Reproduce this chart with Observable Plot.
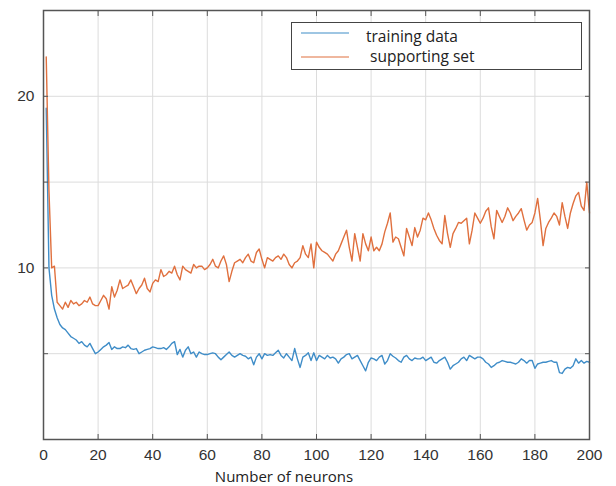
<!DOCTYPE html>
<html>
<head>
<meta charset="utf-8">
<script src="https://cdn.jsdelivr.net/npm/d3@7"></script>
<script src="https://cdn.jsdelivr.net/npm/@observablehq/plot@0.6"></script>
<style>
  html, body { margin: 0; padding: 0; background: #fff; }
  #wrap { position: relative; width: 616px; height: 486px; overflow: hidden; }
  #legend {
    position: absolute; left: 291px; top: 22px; width: 291px; height: 48px;
    border: 1.5px solid #444; background: #fff; box-sizing: border-box;
    font-family: "Open Sans", sans-serif; font-size: 15.5px; color: #222;
  }
  .item { position: absolute; left: 9px; height: 16px; display: flex; align-items: center; }
  .item span { display: inline-block; height: 16px; line-height: 16px; white-space: pre; }
  .sw { width: 48px; height: 0; border-top: 1.4px solid; margin-right: 17px; }
  #xlabel {
    position: absolute; left: 0; width: 568px; top: 467.5px; height: 16px; line-height: 16px; text-align: center;
    font-family: "Open Sans", sans-serif; font-size: 15px; color: #222;
  }
  #xlabel span { display: inline-block; height: 16px; line-height: 16px; }
</style>
</head>
<body>
<div id="wrap">
  <div id="chart"></div>
  <div id="legend"></div>
  <div id="xlabel"></div>
</div>
<script>
const seriesNames = ["training data", " supporting set"];
const seriesColors = ["#3f8dc8", "#e0703e"];
const xLabel = "Number of neurons";
const xTicks = [0, 20, 40, 60, 80, 100, 120, 140, 160, 180, 200];
const yTicks = [5, 10, 15, 20];
const yLabeled = [10, 20];

const neurons = d3.range(1, 201);

const training = [
  19.3, 10.0, 8.4, 7.6, 7.1, 6.7, 6.5, 6.4, 6.2, 6.0,
  5.9, 5.8, 5.6, 5.7, 5.5, 5.4, 5.6, 5.3, 5.0, 5.1,
  5.25, 5.4, 5.5, 5.65, 5.25, 5.4, 5.3, 5.3, 5.4, 5.35,
  5.5, 5.3, 5.25, 5.3, 5.0, 5.1, 5.2, 5.25, 5.3, 5.4,
  5.35, 5.3, 5.3, 5.35, 5.25, 5.4, 5.6, 5.7, 4.95, 5.25,
  4.8, 5.2, 5.4, 5.0, 5.1, 4.8, 5.1, 5.0, 4.95, 4.95,
  5.0, 5.05, 5.0, 4.8, 4.65, 4.8, 4.95, 5.1, 4.9, 4.8,
  4.9, 5.0, 4.9, 4.85, 4.7, 4.8, 4.35, 4.8, 5.0, 4.7,
  5.0, 4.9, 4.95, 4.9, 5.05, 5.2, 4.9, 4.75, 5.0, 4.8,
  4.6, 5.3, 4.7, 4.2, 4.8, 4.9, 5.05, 4.6, 5.05, 4.6,
  4.9, 4.8, 4.7, 4.9, 4.75, 4.8, 4.7, 4.45, 4.7, 4.8,
  4.95, 5.0, 4.7, 4.8, 4.9, 4.6, 4.3, 4.0, 4.5, 4.75,
  4.7, 4.6, 4.8, 4.9, 4.4, 4.6, 5.0, 4.85, 4.75, 4.6,
  4.5, 4.8, 4.9, 4.7, 4.6, 4.75, 4.7, 4.7, 4.8, 4.6,
  4.7, 4.8, 4.5, 4.45, 4.6, 4.7, 4.8, 4.5, 4.1, 4.3,
  4.4, 4.5, 4.7, 4.8, 4.6, 4.9, 4.8, 4.7, 4.8, 4.8,
  4.7, 4.5, 4.4, 4.2, 4.3, 4.45, 4.5, 4.6, 4.55, 4.5,
  4.5, 4.45, 4.4, 4.5, 4.7, 4.6, 4.45, 4.6, 4.6, 4.15,
  4.4, 4.45, 4.5, 4.5, 4.55, 4.6, 4.5, 4.5, 3.9, 3.85,
  4.1, 4.2, 4.15, 4.3, 4.7, 4.45, 4.6, 4.45, 4.55, 4.5
];

const supporting = [
  22.3, 14.5, 10.0, 10.1, 8.0, 7.8, 7.6, 8.0, 7.7, 8.1,
  7.9, 8.0, 7.8, 7.9, 8.1, 8.0, 8.3, 7.9, 7.8, 7.8,
  8.1, 8.4, 8.2, 7.6, 8.9, 8.3, 8.7, 9.3, 8.8, 8.9,
  9.0, 9.3, 8.9, 8.5, 8.8, 9.0, 9.4, 8.8, 8.6, 9.1,
  9.3, 9.2, 9.9, 9.5, 9.6, 9.8, 9.7, 10.1, 9.6, 9.3,
  10.1, 9.9, 9.8, 9.7, 10.2, 10.0, 10.1, 10.1, 9.9, 10.0,
  10.2, 10.5, 10.1, 10.0, 10.4, 10.7, 10.2, 9.2, 9.8, 10.3,
  10.4, 10.5, 10.3, 10.6, 10.8, 10.4, 10.3, 10.9, 11.1, 10.5,
  10.0, 10.6, 10.5, 10.4, 10.6, 10.7, 10.5, 10.8, 10.6, 10.2,
  10.0, 10.3, 10.4, 10.6, 11.3, 10.8, 10.6, 11.4, 10.0, 11.5,
  11.2, 11.0, 10.9, 10.8, 10.6, 10.4, 10.8, 11.0, 11.4, 11.8,
  12.2, 11.2, 10.4, 12.0, 11.2, 10.4, 12.0, 11.4, 11.0, 11.8,
  11.0, 11.2, 11.0, 11.4, 12.1, 12.6, 13.2, 11.5, 11.8, 11.7,
  11.2, 10.7, 12.3, 11.8, 11.3, 12.35, 11.8, 12.2, 12.9, 12.8,
  13.2, 12.8, 12.3, 11.9, 11.6, 11.4, 13.05, 12.0, 11.2, 12.0,
  12.3, 12.65, 12.6, 12.75, 12.9, 11.4, 12.2, 13.2, 12.9, 12.6,
  12.9, 13.3, 13.5, 12.4, 11.7, 13.35, 13.0, 12.65, 13.0, 13.5,
  13.2, 12.75, 13.0, 13.2, 13.45, 12.8, 12.2, 12.5, 12.65, 13.2,
  14.05, 12.8, 11.3, 12.3, 12.65, 12.9, 13.2, 13.0, 12.5, 13.8,
  13.0, 12.3, 13.2, 13.75, 14.2, 14.4, 13.6, 13.35, 15.0, 13.2
];

const rows = neurons.map((n, i) => ({n, training: training[i], supporting: supporting[i]}));

const chart = Plot.plot({
  width: 616,
  height: 486,
  marginLeft: 43,
  marginRight: 27,
  marginTop: 10,
  marginBottom: 47,
  x: {domain: [0, 200]},
  y: {domain: [0, 25]},
  style: {fontFamily: "'Liberation Sans', Arial, sans-serif", fontSize: "15.5px", color: "#333", background: "#fff"},
  marks: [
    Plot.gridX(xTicks.slice(1, -1), {stroke: "#dcdcdc", strokeOpacity: 1, strokeWidth: 1}),
    Plot.gridY(yTicks, {stroke: "#dcdcdc", strokeOpacity: 1, strokeWidth: 1}),
    Plot.line(rows, {x: "n", y: "training", stroke: seriesColors[0], strokeWidth: 1.4}),
    Plot.line(rows, {x: "n", y: "supporting", stroke: seriesColors[1], strokeWidth: 1.4}),
    Plot.frame({stroke: "#555", strokeWidth: 1.5}),
    Plot.axisX(xTicks, {anchor: "bottom", tickSize: 0, tickPadding: 9, label: null, fill: "#333"}),
    Plot.axisX(xTicks, {anchor: "bottom", tickSize: -5, tickFormat: () => "", label: null, stroke: "#555"}),
    Plot.axisX(xTicks, {anchor: "top", tickSize: -5, tickFormat: () => "", label: null, stroke: "#555"}),
    Plot.axisY(yTicks, {anchor: "left", tickSize: 0, tickPadding: 9, label: null, fill: "#333",
      tickFormat: d => yLabeled.includes(d) ? String(d) : ""}),
    Plot.axisY(yTicks, {anchor: "left", tickSize: -5, tickFormat: () => "", label: null, stroke: "#555"}),
    Plot.axisY(yTicks, {anchor: "right", tickSize: -5, tickFormat: () => "", label: null, stroke: "#555"})
  ]
});
document.getElementById("chart").append(chart);

const legend = document.getElementById("legend");
const itemTops = [5, 25];
const swShift = [-3.5, 0.5];
seriesNames.forEach((name, i) => {
  const it = document.createElement("div");
  it.className = "item";
  it.style.top = itemTops[i] + "px";
  const sw = document.createElement("div");
  sw.className = "sw";
  sw.style.borderColor = seriesColors[i];
  sw.style.transform = `translateY(${swShift[i]}px)`;
  const tx = document.createElement("span");
  tx.textContent = name;
  it.append(sw, tx);
  legend.append(it);
});
const xl = document.createElement("span");
xl.textContent = xLabel;
document.getElementById("xlabel").append(xl);
</script>
</body>
</html>
